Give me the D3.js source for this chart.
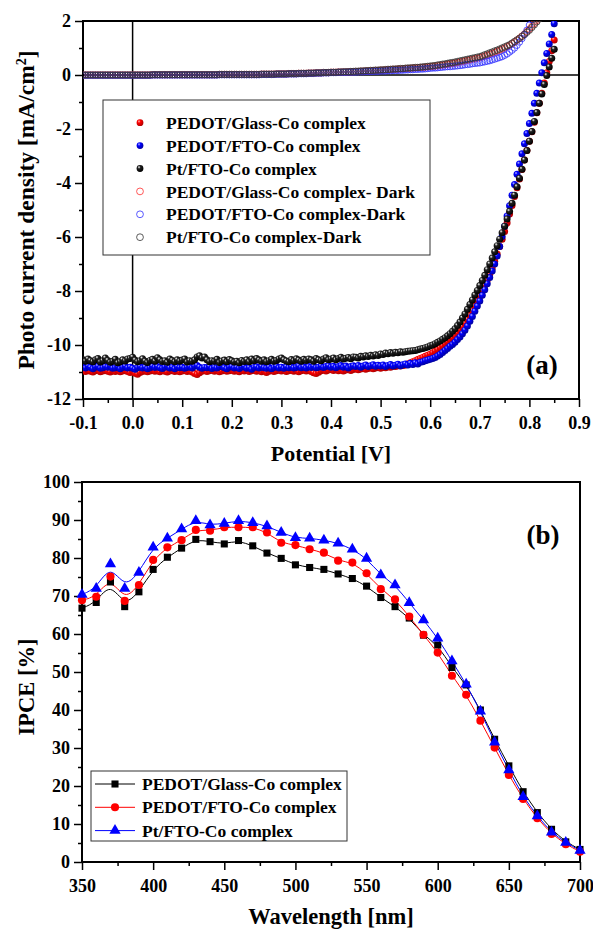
<!DOCTYPE html>
<html>
<head>
<meta charset="utf-8">
<script src="https://cdn.jsdelivr.net/npm/d3@7"></script>
<style>
  body { margin: 0; background: #fff; }
  svg text { font-family: "Liberation Serif", "Times New Roman", serif; font-weight: bold; fill: #000; }
</style>
</head>
<body>
<svg id="chart" width="593" height="929"></svg>
<script>
// ---------- panel (a): J-V data, measured every 5 mV from -0.1 V ----------
const V_START = -0.1, V_STEP = 0.005;

const jGlassLight = [
  -10.95,-10.98,-10.93,-10.97,-11.00,-10.95,-10.92,-10.99,-10.96,-10.94,
  -10.97,-11.00,-10.95,-10.98,-10.93,-10.99,-10.96,-10.94,-10.98,-11.02,
  -10.97,-11.05,-11.08,-11.02,-10.98,-10.95,-10.99,-10.96,-10.93,-10.97,
  -10.95,-10.99,-10.94,-10.97,-11.00,-10.96,-10.93,-10.98,-10.95,-10.99,
  -10.96,-10.93,-10.98,-10.95,-11.00,-11.06,-11.09,-11.03,-10.97,-10.94,
  -10.98,-10.95,-10.93,-10.97,-10.94,-10.99,-10.96,-10.92,-10.97,-10.95,
  -10.93,-10.97,-10.95,-10.99,-10.94,-10.96,-10.92,-10.98,-10.95,-10.93,
  -10.97,-10.94,-10.99,-10.95,-11.02,-10.97,-10.94,-10.98,-10.95,-10.92,
  -10.96,-10.93,-10.98,-10.95,-10.92,-10.97,-10.94,-10.99,-10.95,-10.92,
  -10.96,-10.93,-10.98,-11.03,-11.06,-11.01,-10.95,-10.92,-10.96,-10.93,
  -10.90,-10.94,-10.91,-10.95,-10.92,-10.96,-10.93,-10.89,-10.94,-10.91,
  -10.88,-10.92,-10.89,-10.86,-10.90,-10.87,-10.84,-10.88,-10.85,-10.82,
  -10.86,-10.83,-10.84,-10.81,-10.82,-10.79,-10.80,-10.77,-10.78,-10.76,
  -10.74,-10.70,-10.66,-10.62,-10.58,-10.54,-10.50,-10.46,-10.42,-10.38,
  -10.34,-10.29,-10.23,-10.17,-10.10,-10.03,-9.95,-9.87,-9.79,-9.72,
  -9.64,-9.54,-9.43,-9.32,-9.19,-9.05,-8.90,-8.74,-8.56,-8.38,
  -8.19,-8.00,-7.80,-7.59,-7.38,-7.15,-6.90,-6.63,-6.35,-6.08,
  -5.80,-5.48,-5.15,-4.83,-4.50,-4.18,-3.85,-3.50,-3.15,-2.80,
  -2.45,-2.10,-1.75,-1.40,-1.05,-0.68,-0.30,0.08,0.50,0.90,
  1.30
];
const jFtoLight = [
  -10.80,-10.85,-10.78,-10.83,-10.88,-10.82,-10.79,-10.86,-10.84,-10.80,
  -10.82,-10.78,-10.86,-10.84,-10.80,-10.88,-10.83,-10.79,-10.85,-10.82,
  -10.86,-10.90,-10.84,-10.80,-10.85,-10.82,-10.88,-10.84,-10.79,-10.83,
  -10.80,-10.84,-10.87,-10.82,-10.78,-10.85,-10.83,-10.88,-10.81,-10.84,
  -10.82,-10.86,-10.83,-10.80,-10.85,-10.79,-10.76,-10.82,-10.86,-10.83,
  -10.84,-10.80,-10.87,-10.83,-10.85,-10.81,-10.78,-10.84,-10.88,-10.82,
  -10.80,-10.85,-10.83,-10.87,-10.82,-10.79,-10.86,-10.84,-10.90,-10.83,
  -10.81,-10.85,-10.80,-10.84,-10.86,-10.82,-10.88,-10.83,-10.79,-10.85,
  -10.82,-10.86,-10.81,-10.84,-10.80,-10.85,-10.83,-10.78,-10.84,-10.81,
  -10.85,-10.80,-10.83,-10.79,-10.84,-10.82,-10.78,-10.83,-10.80,-10.77,
  -10.82,-10.79,-10.84,-10.80,-10.76,-10.82,-10.78,-10.85,-10.80,-10.77,
  -10.80,-10.76,-10.82,-10.78,-10.74,-10.80,-10.77,-10.73,-10.79,-10.75,
  -10.78,-10.74,-10.80,-10.76,-10.72,-10.78,-10.75,-10.71,-10.77,-10.73,
  -10.70,-10.74,-10.68,-10.72,-10.66,-10.70,-10.64,-10.62,-10.58,-10.56,
  -10.53,-10.50,-10.46,-10.41,-10.35,-10.28,-10.20,-10.13,-10.05,-9.98,
  -9.90,-9.80,-9.70,-9.58,-9.45,-9.30,-9.12,-8.94,-8.75,-8.56,
  -8.37,-8.16,-7.95,-7.73,-7.50,-7.26,-7.00,-6.70,-6.35,-5.98,
  -5.60,-5.22,-4.84,-4.45,-4.06,-3.68,-3.30,-2.92,-2.55,-2.17,
  -1.80,-1.42,-1.05,-0.68,-0.30,0.08,0.45,0.80,1.15,1.50,
  1.90
];
const jPtLight = [
  -10.55,-10.60,-10.52,-10.58,-10.62,-10.55,-10.50,-10.63,-10.58,-10.48,
  -10.57,-10.64,-10.60,-10.53,-10.66,-10.62,-10.55,-10.59,-10.52,-10.50,
  -10.45,-10.56,-10.62,-10.58,-10.51,-10.60,-10.65,-10.57,-10.53,-10.60,
  -10.47,-10.55,-10.61,-10.58,-10.64,-10.52,-10.57,-10.62,-10.55,-10.60,
  -10.56,-10.52,-10.63,-10.58,-10.60,-10.55,-10.44,-10.40,-10.48,-10.44,
  -10.55,-10.62,-10.58,-10.60,-10.53,-10.65,-10.59,-10.56,-10.62,-10.54,
  -10.58,-10.63,-10.60,-10.66,-10.57,-10.61,-10.55,-10.62,-10.52,-10.58,
  -10.50,-10.56,-10.60,-10.55,-10.62,-10.58,-10.53,-10.60,-10.57,-10.52,
  -10.48,-10.55,-10.59,-10.62,-10.54,-10.58,-10.51,-10.56,-10.60,-10.53,
  -10.57,-10.52,-10.55,-10.60,-10.50,-10.55,-10.58,-10.52,-10.47,-10.55,
  -10.52,-10.48,-10.55,-10.50,-10.45,-10.52,-10.49,-10.46,-10.51,-10.44,
  -10.45,-10.48,-10.42,-10.44,-10.40,-10.43,-10.38,-10.41,-10.36,-10.39,
  -10.33,-10.35,-10.30,-10.32,-10.28,-10.31,-10.27,-10.29,-10.25,-10.27,
  -10.25,-10.23,-10.22,-10.21,-10.20,-10.18,-10.15,-10.13,-10.10,-10.07,
  -10.03,-10.00,-9.95,-9.90,-9.85,-9.79,-9.73,-9.66,-9.58,-9.49,
  -9.40,-9.28,-9.15,-9.00,-8.85,-8.68,-8.50,-8.33,-8.15,-7.98,
  -7.80,-7.61,-7.42,-7.21,-7.00,-6.78,-6.55,-6.32,-6.08,-5.84,
  -5.60,-5.33,-5.05,-4.75,-4.45,-4.14,-3.82,-3.49,-3.15,-2.80,
  -2.45,-2.09,-1.72,-1.39,-1.05,-0.70,-0.35,-0.02,0.30,0.62,
  0.95
];
const jPtDark = [
  0.00,0.00,0.00,0.00,0.00,0.00,0.00,0.00,0.00,0.00,
  0.00,0.00,0.00,0.00,0.00,0.00,0.00,0.00,0.00,0.00,
  0.00,0.00,0.00,0.00,0.00,0.00,0.00,0.00,0.01,0.01,
  0.01,0.01,0.01,0.01,0.01,0.01,0.01,0.01,0.01,0.01,
  0.01,0.01,0.01,0.01,0.01,0.01,0.01,0.01,0.01,0.01,
  0.01,0.01,0.01,0.01,0.01,0.02,0.02,0.02,0.02,0.02,
  0.02,0.02,0.02,0.02,0.02,0.02,0.02,0.02,0.02,0.02,
  0.02,0.02,0.03,0.03,0.03,0.03,0.03,0.03,0.04,0.04,
  0.04,0.04,0.04,0.05,0.05,0.05,0.05,0.06,0.06,0.06,
  0.06,0.07,0.07,0.07,0.08,0.08,0.08,0.09,0.09,0.09,
  0.10,0.10,0.10,0.11,0.11,0.12,0.12,0.12,0.13,0.13,
  0.14,0.14,0.15,0.15,0.16,0.16,0.17,0.17,0.18,0.18,
  0.19,0.19,0.20,0.21,0.21,0.22,0.22,0.23,0.24,0.24,
  0.25,0.26,0.26,0.27,0.28,0.28,0.29,0.30,0.31,0.32,
  0.33,0.34,0.35,0.37,0.38,0.40,0.41,0.43,0.45,0.46,
  0.48,0.50,0.52,0.54,0.56,0.58,0.60,0.62,0.64,0.66,
  0.68,0.71,0.75,0.78,0.82,0.85,0.89,0.92,0.96,1.00,
  1.04,1.08,1.12,1.18,1.24,1.30,1.36,1.43,1.50,1.58,
  1.66,1.76,1.86,1.97,2.08
];
const jGlassDark = [
  0.00,0.00,0.00,0.00,0.00,0.00,0.00,0.00,0.00,0.00,
  0.00,0.00,0.00,0.00,0.00,0.00,0.00,0.00,0.00,0.00,
  0.00,0.00,0.00,0.00,0.00,0.00,0.00,0.00,0.01,0.01,
  0.01,0.01,0.01,0.01,0.01,0.01,0.01,0.01,0.01,0.01,
  0.01,0.01,0.01,0.01,0.01,0.01,0.01,0.01,0.01,0.01,
  0.01,0.01,0.01,0.01,0.01,0.02,0.02,0.02,0.02,0.02,
  0.02,0.02,0.02,0.02,0.02,0.02,0.02,0.02,0.02,0.02,
  0.02,0.02,0.03,0.03,0.03,0.03,0.03,0.03,0.04,0.04,
  0.04,0.04,0.04,0.05,0.05,0.05,0.05,0.06,0.06,0.06,
  0.06,0.07,0.07,0.07,0.08,0.08,0.08,0.09,0.09,0.09,
  0.10,0.10,0.10,0.11,0.11,0.11,0.11,0.12,0.12,0.12,
  0.13,0.13,0.14,0.14,0.15,0.15,0.16,0.16,0.17,0.17,
  0.18,0.18,0.19,0.19,0.20,0.21,0.21,0.22,0.22,0.23,
  0.24,0.24,0.25,0.26,0.26,0.27,0.28,0.28,0.29,0.30,
  0.31,0.32,0.33,0.34,0.36,0.37,0.38,0.40,0.41,0.43,
  0.44,0.46,0.48,0.50,0.52,0.54,0.56,0.58,0.60,0.62,
  0.64,0.67,0.70,0.73,0.77,0.80,0.84,0.88,0.92,0.96,
  1.00,1.05,1.10,1.16,1.22,1.29,1.36,1.44,1.52,1.61,
  1.70,1.80,1.91,2.02
];
const jFtoDark = [
  -0.01,-0.01,-0.01,-0.01,-0.01,-0.01,-0.01,-0.01,-0.01,-0.01,
  -0.01,-0.01,-0.01,-0.01,-0.01,-0.01,-0.01,-0.01,-0.01,-0.01,
  -0.01,-0.01,-0.01,-0.01,-0.01,-0.01,-0.01,-0.01,0.00,0.00,
  0.00,0.00,0.00,0.00,0.00,0.00,0.00,0.00,0.00,0.00,
  0.00,0.00,0.00,0.00,0.00,0.00,0.00,0.00,0.00,0.00,
  0.00,0.00,0.00,0.00,0.00,0.01,0.01,0.01,0.01,0.01,
  0.01,0.01,0.01,0.01,0.01,0.01,0.01,0.01,0.01,0.01,
  0.01,0.01,0.02,0.02,0.02,0.02,0.02,0.02,0.03,0.03,
  0.03,0.03,0.03,0.04,0.04,0.04,0.04,0.05,0.05,0.05,
  0.05,0.06,0.06,0.06,0.07,0.07,0.07,0.08,0.08,0.08,
  0.09,0.09,0.09,0.10,0.10,0.10,0.10,0.11,0.11,0.11,
  0.11,0.12,0.12,0.12,0.13,0.13,0.13,0.14,0.14,0.14,
  0.15,0.15,0.15,0.16,0.16,0.17,0.17,0.17,0.18,0.18,
  0.19,0.19,0.20,0.20,0.21,0.21,0.22,0.22,0.23,0.24,
  0.25,0.26,0.26,0.27,0.28,0.29,0.30,0.31,0.31,0.32,
  0.33,0.34,0.35,0.36,0.38,0.39,0.40,0.42,0.43,0.44,
  0.45,0.47,0.49,0.51,0.53,0.56,0.59,0.62,0.65,0.68,
  0.73,0.78,0.85,0.92,1.00,1.10,1.22,1.35,1.50,1.66,
  1.85,2.05
];

const lightSeries = [
  { name: "PEDOT/Glass-Co complex", j: jGlassLight, color: "red" },
  { name: "PEDOT/FTO-Co complex",   j: jFtoLight,   color: "blue" },
  { name: "Pt/FTO-Co complex",      j: jPtLight,    color: "black" }
];
const darkSeries = [
  { name: "PEDOT/Glass-Co complex- Dark", j: jGlassDark, color: "#ff3030" },
  { name: "PEDOT/FTO-Co complex-Dark",    j: jFtoDark,   color: "#3030ff" },
  { name: "Pt/FTO-Co complex-Dark",       j: jPtDark,    color: "#333333" }
];
const potentialTicks = [-0.1, 0.0, 0.1, 0.2, 0.3, 0.4, 0.5, 0.6, 0.7, 0.8, 0.9];
const currentTicks = [2, 0, -2, -4, -6, -8, -10, -12];

// ---------- panel (b): IPCE ----------
const wavelengths = [350,360,370,380,390,400,410,420,430,440,450,460,470,480,490,500,
  510,520,530,540,550,560,570,580,590,600,610,620,630,640,650,660,670,680,690,700];
const ipceGlass = [66.8,68.3,73.7,67.2,71.1,77.0,80.2,82.6,84.9,84.3,83.7,84.6,83.2,81.3,79.9,78.2,
  77.5,77.0,75.8,74.6,72.6,69.6,67.2,64.2,59.7,57.1,51.2,46.6,40.0,32.3,25.3,18.5,13.0,8.6,5.3,3.3];
const ipceFto = [68.9,69.8,75.1,68.7,72.9,79.5,82.8,84.7,87.4,87.2,88.1,88.1,88.1,86.7,84.0,83.4,
  82.3,81.4,79.3,78.8,76.0,71.8,69.1,64.6,59.8,55.1,49.0,44.0,37.2,30.1,22.9,16.6,11.5,7.4,4.7,2.7];
const ipcePt = [70.4,72.0,78.4,72.0,76.2,82.8,85.2,87.6,89.8,88.7,89.1,89.8,89.3,88.4,86.7,85.3,
  85.2,84.7,83.9,82.3,79.9,75.5,72.9,68.2,63.7,58.9,52.9,46.8,39.7,31.5,24.2,17.2,12.1,7.8,5.1,3.0];
const ipceSeries = [
  { name: "PEDOT/Glass-Co complex", v: ipceGlass, color: "black", symbol: d3.symbolSquare, size: 50 },
  { name: "PEDOT/FTO-Co complex",   v: ipceFto,   color: "red",   symbol: d3.symbolCircle, size: 52 },
  { name: "Pt/FTO-Co complex",      v: ipcePt,    color: "blue",  symbol: d3.symbolTriangle, size: 55 }
];
const wavelengthTicks = [350, 400, 450, 500, 550, 600, 650, 700];
const ipceTicks = [0, 10, 20, 30, 40, 50, 60, 70, 80, 90, 100];

// ======================================================
const svg = d3.select("#chart");
const defs = svg.append("defs");

// shaded ball gradients
const ballColors = { red: ["#ffb0b0", "#ff0000", "#b00000"], blue: ["#b8b8ff", "#0000ff", "#0000a0"], black: ["#ffffff", "#202020", "#000000"] };
Object.entries(ballColors).forEach(([k, c]) => {
  const gr = defs.append("radialGradient").attr("id", "ball-" + k)
    .attr("cx", "38%").attr("cy", "35%").attr("r", "65%").attr("fx", "35%").attr("fy", "30%");
  gr.append("stop").attr("offset", "0%").attr("stop-color", c[0]);
  gr.append("stop").attr("offset", "35%").attr("stop-color", c[1]);
  gr.append("stop").attr("offset", "100%").attr("stop-color", c[2]);
});

function styleAxis(g, w) {
  g.selectAll(".domain").remove();
  g.selectAll(".tick line").attr("stroke", "#000").attr("stroke-width", w);
}

// ---------------- panel (a) ----------------
const xa = d3.scaleLinear().domain([-0.1, 0.9]).range([83, 579]);
const ya = d3.scaleLinear().domain([-12, 2]).range([399, 21]);

defs.append("clipPath").attr("id", "clipA").append("rect")
  .attr("x", 83).attr("y", 21).attr("width", 496).attr("height", 378);

const gA = svg.append("g");

// axes ticks
gA.append("g").attr("transform", "translate(0,399)")
  .call(d3.axisBottom(xa).tickValues(d3.range(-0.05, 0.9, 0.1)).tickSize(4).tickFormat(""))
  .call(g => styleAxis(g, 1.5));
gA.append("g").attr("transform", "translate(0,399)")
  .call(d3.axisBottom(xa).tickValues(potentialTicks).tickSize(8).tickPadding(5).tickFormat(d => d.toFixed(1)))
  .call(g => styleAxis(g, 1.5))
  .selectAll("text").attr("font-size", 18).attr("dy", "0.95em");
gA.append("g").attr("transform", "translate(83,0)")
  .call(d3.axisLeft(ya).tickValues(d3.range(-11, 2, 2)).tickSize(4).tickFormat(""))
  .call(g => styleAxis(g, 1.5));
gA.append("g").attr("transform", "translate(83,0)")
  .call(d3.axisLeft(ya).tickValues(currentTicks).tickSize(8).tickPadding(4).tickFormat(d => String(d)))
  .call(g => styleAxis(g, 1.5))
  .selectAll("text").attr("font-size", 18);

// frame and zero lines
gA.append("rect").attr("x", 83).attr("y", 21).attr("width", 496).attr("height", 378)
  .attr("fill", "none").attr("stroke", "#000").attr("stroke-width", 2);
gA.append("line").attr("x1", 83).attr("x2", 579).attr("y1", ya(0)).attr("y2", ya(0))
  .attr("stroke", "#000").attr("stroke-width", 1.5);
gA.append("line").attr("x1", xa(0)).attr("x2", xa(0)).attr("y1", 21).attr("y2", 399)
  .attr("stroke", "#000").attr("stroke-width", 1.5);

// data
const plotA = gA.append("g").attr("clip-path", "url(#clipA)");
darkSeries.forEach(s => {
  plotA.append("g").selectAll("circle")
    .data(s.j.map((j, i) => ({ v: V_START + i * V_STEP, j })))
    .join("circle")
    .attr("cx", d => xa(d.v)).attr("cy", d => ya(d.j)).attr("r", 3.2)
    .attr("fill", "none").attr("stroke", s.color).attr("stroke-width", 0.8);
});
lightSeries.forEach(s => {
  plotA.append("g").selectAll("circle")
    .data(s.j.map((j, i) => ({ v: V_START + i * V_STEP, j })))
    .join("circle")
    .attr("cx", d => xa(d.v)).attr("cy", d => ya(d.j)).attr("r", 3.5)
    .attr("fill", "url(#ball-" + s.color + ")");
});

// legend (a)
const legA = gA.append("g");
legA.append("rect").attr("x", 103).attr("y", 100).attr("width", 327).attr("height", 155)
  .attr("fill", "#fff").attr("stroke", "#333").attr("stroke-width", 1);
lightSeries.concat(darkSeries).forEach((s, i) => {
  const cy = 122.7 + i * 22.9;
  const c = legA.append("circle").attr("cx", 140).attr("cy", cy).attr("r", 3.4);
  if (i < 3) c.attr("fill", "url(#ball-" + s.color + ")");
  else c.attr("fill", "none").attr("stroke", s.color).attr("stroke-width", 0.8);
  legA.append("text").attr("x", 166).attr("y", cy).attr("dy", "0.35em")
    .attr("font-size", 17.5).text(s.name);
});

gA.append("text").attr("x", 542).attr("y", 365).attr("dy", "0.35em").attr("text-anchor", "middle")
  .attr("font-size", 27).text("(a)");

gA.append("text").attr("x", 331).attr("y", 461).attr("text-anchor", "middle")
  .attr("font-size", 22).text("Potential [V]");
const yTitleA = gA.append("text").attr("transform", "translate(34,210) rotate(-90)")
  .attr("text-anchor", "middle").attr("font-size", 23.5);
yTitleA.append("tspan").text("Photo current density [mA/cm");
yTitleA.append("tspan").attr("font-size", 14).attr("dy", "-0.6em").text("2");
yTitleA.append("tspan").attr("dy", "0.4em").text("]");

// ---------------- panel (b) ----------------
const xb = d3.scaleLinear().domain([350, 700]).range([82, 580]);
const yb = d3.scaleLinear().domain([0, 100]).range([862, 482]);
const gB = svg.append("g");

gB.append("g").attr("transform", "translate(0,862)")
  .call(d3.axisBottom(xb).tickValues(d3.range(375, 700, 50)).tickSize(4).tickFormat(""))
  .call(g => styleAxis(g, 1.5));
gB.append("g").attr("transform", "translate(0,862)")
  .call(d3.axisBottom(xb).tickValues(wavelengthTicks).tickSize(8).tickPadding(5).tickFormat(d => String(d)))
  .call(g => styleAxis(g, 1.5))
  .selectAll("text").attr("font-size", 18).attr("dy", "0.95em");
gB.append("g").attr("transform", "translate(82,0)")
  .call(d3.axisLeft(yb).tickValues(d3.range(5, 100, 10)).tickSize(4).tickFormat(""))
  .call(g => styleAxis(g, 1.5));
gB.append("g").attr("transform", "translate(82,0)")
  .call(d3.axisLeft(yb).tickValues(ipceTicks).tickSize(8).tickPadding(4).tickFormat(d => String(d)))
  .call(g => styleAxis(g, 1.5))
  .selectAll("text").attr("font-size", 18);

gB.append("rect").attr("x", 82).attr("y", 482).attr("width", 498).attr("height", 380)
  .attr("fill", "none").attr("stroke", "#000").attr("stroke-width", 2);

const lineB = d3.line().x(d => xb(d.w)).y(d => yb(d.v)).curve(d3.curveBasis);
ipceSeries.forEach(s => {
  const pts = s.v.map((v, i) => ({ w: wavelengths[i], v }));
  gB.append("path").datum(pts).attr("d", lineB)
    .attr("fill", "none").attr("stroke", s.color).attr("stroke-width", 1);
});
ipceSeries.forEach(s => {
  const pts = s.v.map((v, i) => ({ w: wavelengths[i], v }));
  gB.append("g").selectAll("path").data(pts).join("path")
    .attr("transform", d => `translate(${xb(d.w)},${yb(d.v)})`)
    .attr("d", d3.symbol().type(s.symbol).size(s.size))
    .attr("fill", s.color);
});

// legend (b)
const legB = gB.append("g");
legB.append("rect").attr("x", 91).attr("y", 771).attr("width", 256).attr("height", 70)
  .attr("fill", "#fff").attr("stroke", "#333").attr("stroke-width", 1);
ipceSeries.forEach((s, i) => {
  const cy = 784 + i * 23.3;
  legB.append("line").attr("x1", 95).attr("x2", 135).attr("y1", cy).attr("y2", cy)
    .attr("stroke", s.color).attr("stroke-width", 1);
  legB.append("path").attr("transform", `translate(115,${cy})`)
    .attr("d", d3.symbol().type(s.symbol).size(s.size)).attr("fill", s.color);
  legB.append("text").attr("x", 142).attr("y", cy).attr("dy", "0.35em")
    .attr("font-size", 17.5).text(s.name);
});

gB.append("text").attr("x", 543).attr("y", 535).attr("dy", "0.35em").attr("text-anchor", "middle")
  .attr("font-size", 27).text("(b)");

gB.append("text").attr("x", 331).attr("y", 924).attr("text-anchor", "middle")
  .attr("font-size", 22.5).text("Wavelength [nm]");
gB.append("text").attr("transform", "translate(34,687) rotate(-90)")
  .attr("text-anchor", "middle").attr("font-size", 22.5).text("IPCE [%]");
</script>
</body>
</html>
